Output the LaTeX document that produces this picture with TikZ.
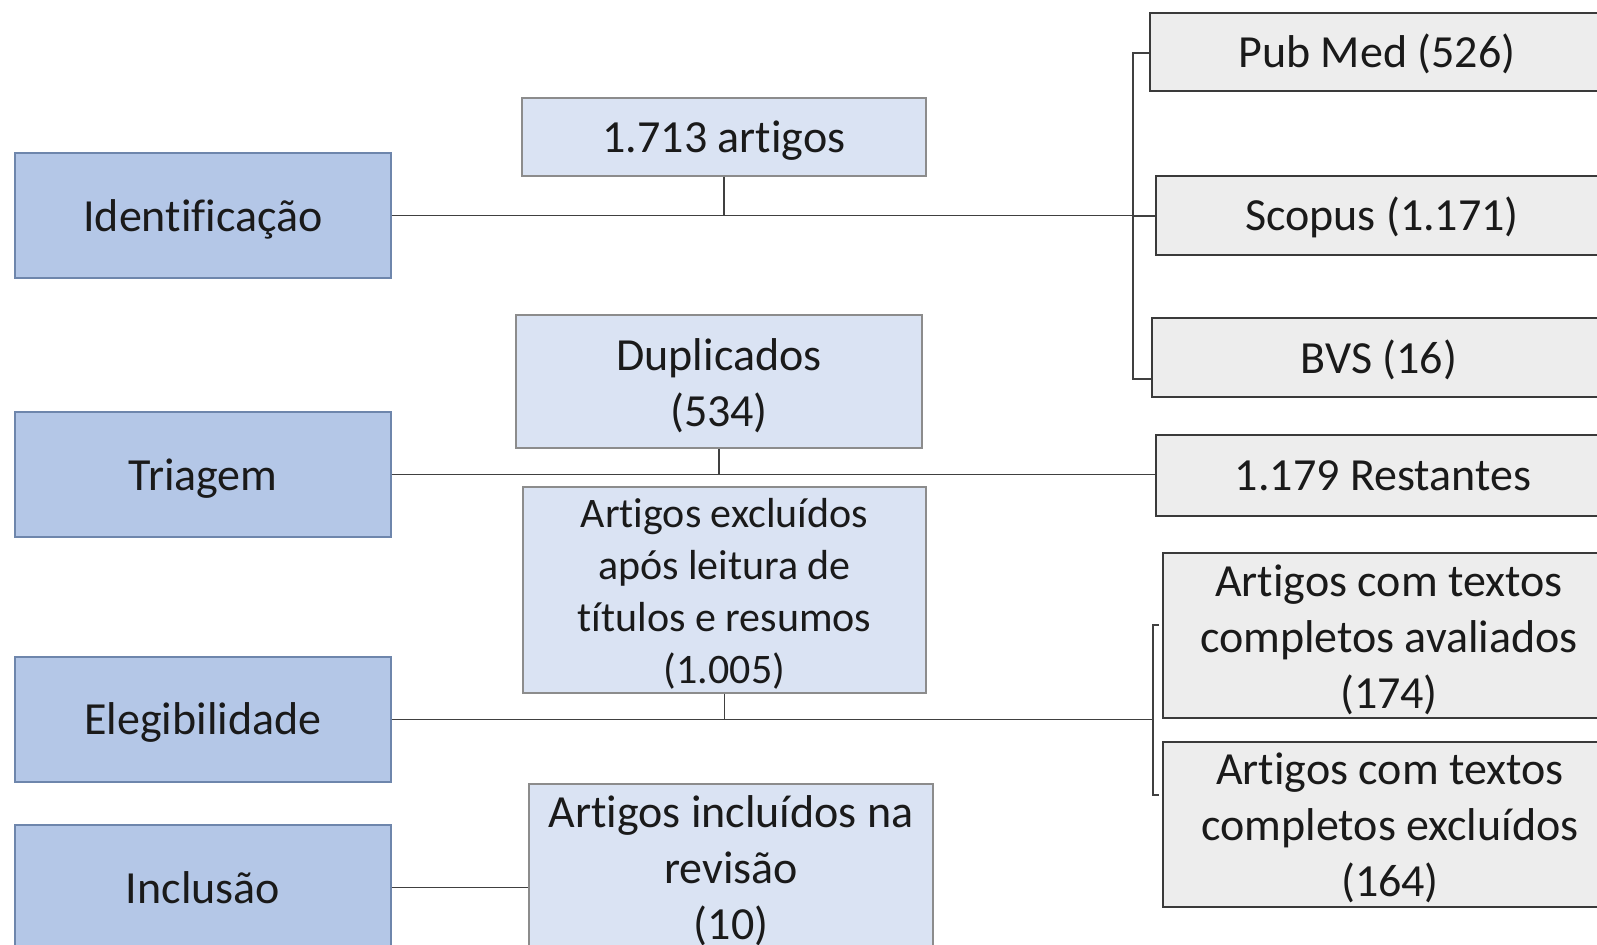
\documentclass[tikz,border=0pt]{standalone}
\usepackage{fontspec}
\setmainfont{Carlito}[Ligatures={CommonOff,ContextualOff},RawFeature={-liga;-clig;-calt;-dlig}]
\definecolor{lfill}{HTML}{B4C7E7}
\definecolor{ldraw}{HTML}{6E86AC}
\definecolor{mfill}{HTML}{DAE3F3}
\definecolor{mdraw}{HTML}{8C8C8C}
\definecolor{rfill}{HTML}{EDEDED}
\definecolor{rdraw}{HTML}{3A3A3A}
\definecolor{conn}{HTML}{404040}
\definecolor{txt}{HTML}{1A1A1A}
\begin{document}
\begin{tikzpicture}[x=0.5pt,y=-0.5pt,
  base/.style={rectangle,inner sep=0pt},
  lbox/.style={base,fill=lfill,draw=ldraw,line width=0.6pt,minimum width=188pt,minimum height=62.5pt},
  mbox/.style={base,fill=mfill,draw=mdraw,line width=0.6pt},
  rbox/.style={base,fill=rfill,draw=rdraw,line width=0.9pt},
  lab/.style={inner sep=0pt,align=center,text=txt,font=\fontsize{23pt}{28pt}\selectfont},
  link/.style={draw=conn,line width=0.8pt}]
\useasboundingbox (0,0) rectangle (1597,944);
\clip (0,0) rectangle (1597,944);
\fill[white] (0,0) rectangle (1597,944);
% left stage boxes
\node[lbox] (ident) at (203,215.5) {};
\node[lbox] (triag) at (203,474.5) {};
\node[lbox] (eleg) at (203,719.5) {};
\node[lbox] (incl) at (203,887.5) {};
\node[lab,yshift=-2pt] (identT) at (ident) {Identificação};
\node[lab,yshift=-2pt] (triagT) at (triag) {Triagem};
\node[lab,yshift=-1.5pt] (elegT) at (eleg) {Elegibilidade};
\node[lab] (inclT) at (incl) {Inclusão};
% middle boxes
\node[mbox,minimum width=202pt,minimum height=39pt] (art) at (724,137) {};
\node[mbox,minimum width=203pt,minimum height=66.5pt] (dup) at (719,381.5) {};
\node[mbox,minimum width=201.5pt,minimum height=103pt] (excl) at (724.5,590) {};
\node[mbox,minimum width=202pt,minimum height=93pt] (inc) at (731,877) {};
\node[lab,yshift=-2pt] (artT) at (art) {1.713 artigos};
\node[lab,yshift=-2pt] (dupT) at (dup) {Duplicados\\(534)};
\node[lab,yshift=-2pt,font=\fontsize{21pt}{26pt}\selectfont] (exclT) at (excl) {Artigos excluídos\\após leitura de\\títulos e resumos\\(1.005)};
\node[lab,yshift=3pt] (incT) at (inc) {Artigos incluídos na\\revisão\\(10)};
% right boxes
\node[rbox,minimum width=227pt,minimum height=39pt] (pub) at (1377,52) {};
\node[rbox,minimum width=226pt,minimum height=39.5pt] (scopus) at (1382,215.5) {};
\node[rbox,minimum width=227pt,minimum height=39.5pt] (bvs) at (1379,357.5) {};
\node[rbox,minimum width=227pt,minimum height=40.5pt] (rest) at (1383,475.5) {};
\node[rbox,minimum width=226pt,minimum height=82.5pt] (aval) at (1389,635.5) {};
\node[rbox,minimum width=227pt,minimum height=82.5pt] (exc2) at (1390,824.5) {};
\node[lab,yshift=-1pt] (pubT) at (pub) {Pub Med (526)};
\node[lab,yshift=-1pt] (scopusT) at (scopus) {Scopus (1.171)};
\node[lab,yshift=-1pt] (bvsT) at (bvs) {BVS (16)};
\node[lab] (restT) at (rest) {1.179 Restantes};
\node[lab,yshift=-2pt] (avalT) at (aval) {Artigos com textos\\completos avaliados\\(174)};
\node[lab,yshift=-1.5pt] (exc2T) at (exc2) {Artigos com textos\\completos excluídos\\(164)};
% bracket coordinates
\coordinate (b1) at (1133,216);
\coordinate (bt) at (1133,53);
\coordinate (bb) at (1133,379);
\coordinate (e1) at (1153,718);
\coordinate (et) at (1153,625);
\coordinate (eb) at (1153,795);
\coordinate (etx) at (1159,625);
\coordinate (ebx) at (1159,795);
% connectors
\draw[link] (ident.east) -- (ident.east -| b1);
\draw[link] (art.south) -- (art.south |- ident.east);
\draw[link] (pub.west |- bt) -- (bt) -- (bb) -- (bvs.west |- bb);
\draw[link] (b1) -- (scopus.west |- b1);
\draw[link] (triag.east) -- (triag.east -| rest.west);
\draw[link] (dup.south) -- (dup.south |- triag.east);
\draw[link] (eleg.east) -- (eleg.east -| e1);
\draw[link] (excl.south) -- (excl.south |- eleg.east);
\draw[link] (etx) -- (et) -- (eb) -- (ebx);
\draw[link] (incl.east) -- (incl.east -| inc.west);
\end{tikzpicture}
\end{document}
